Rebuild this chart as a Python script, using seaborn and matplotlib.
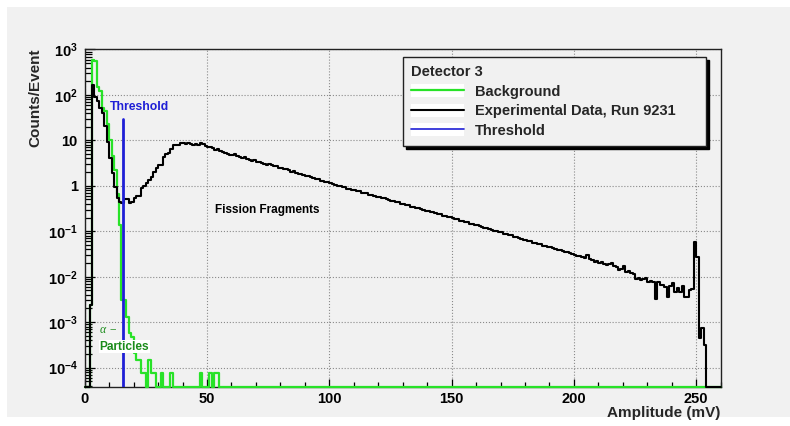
import numpy as np
import pandas as pd
import matplotlib
matplotlib.use("Agg")
import matplotlib.pyplot as plt
import seaborn as sns
from matplotlib.patches import Rectangle, Patch
from matplotlib.lines import Line2D
from matplotlib.legend_handler import HandlerTuple
from matplotlib.ticker import FixedLocator, LogLocator, MultipleLocator, NullFormatter

# ---- data: 1 mV channels from 0 to 260 mV, counts per event ----
amplitude_edges = np.arange(0, 261, 1.0)

experimental_run_9231 = [
    0, 0, 0.0024, 165, 91, 72, 51, 41, 21, 9.4,
    4.0, 1.9, 0.95, 0.55, 0.45, 0.42, 0.5, 0.5, 0.42, 0.45,
    0.55, 0.6, 0.6, 0.9, 1.0, 1.15, 1.35, 1.6, 2.0, 2.5,
    2.8, 2.9, 4.3, 5.0, 5.3, 6.6, 7.9, 7.9, 8.0, 8.9,
    8.6, 8.3, 8.6, 8.3, 8.0, 8.4, 7.9, 8.8, 8.5, 7.4,
    7.0, 7.2, 6.8, 6.2, 6.3, 5.8, 5.5, 5.3, 5.1, 4.8,
    4.7, 4.9, 4.6, 4.2, 4.0, 4.3, 3.9, 3.7, 3.6, 3.7,
    3.4, 3.3, 3.2, 3.0, 2.9, 3.0, 2.9, 2.75, 2.7, 2.5,
    2.5, 2.35, 2.3, 2.2, 2.05, 2.1, 1.9, 1.85, 1.8, 1.72,
    1.65, 1.62, 1.55, 1.5, 1.4, 1.4, 1.3, 1.28, 1.2, 1.19,
    1.13, 1.08, 1.06, 1.0, 0.99, 0.94, 0.93, 0.87, 0.86, 0.82,
    0.81, 0.76, 0.75, 0.71, 0.69, 0.68, 0.64, 0.63, 0.59, 0.58,
    0.56, 0.53, 0.53, 0.50, 0.49, 0.46, 0.46, 0.43, 0.43, 0.40,
    0.40, 0.38, 0.37, 0.35, 0.35, 0.33, 0.32, 0.31, 0.30, 0.285,
    0.28, 0.265, 0.26, 0.25, 0.24, 0.235, 0.222, 0.218, 0.208, 0.203,
    0.195, 0.186, 0.182, 0.172, 0.169, 0.16, 0.157, 0.148, 0.146, 0.138,
    0.136, 0.128, 0.126, 0.119, 0.117, 0.11, 0.109, 0.102, 0.1, 0.095,
    0.094, 0.088, 0.087, 0.082, 0.081, 0.076, 0.075, 0.07, 0.069, 0.065,
    0.065, 0.061, 0.06, 0.056, 0.056, 0.052, 0.052, 0.048, 0.048, 0.045,
    0.045, 0.042, 0.041, 0.039, 0.038, 0.037, 0.035, 0.035, 0.033, 0.032,
    0.03, 0.029, 0.028, 0.0277, 0.026, 0.030, 0.0242, 0.023, 0.021, 0.022,
    0.0199, 0.021, 0.019, 0.0183, 0.019, 0.0199, 0.0168, 0.016, 0.0142, 0.015,
    0.0168, 0.013, 0.0135, 0.012, 0.0115, 0.0087, 0.0095, 0.0085, 0.0088, 0.0092,
    0.0078, 0.0082, 0.0075, 0.0032, 0.0078, 0.0066, 0.0066, 0.0059, 0.0036, 0.0061,
    0.0072, 0.0047, 0.0056, 0.0047, 0.0061, 0.0036, 0.0035, 0.0051, 0.0054, 0.059,
    0.027, 0.00045, 0.00076, 0.00032, 0, 0, 0, 0, 0, 0,
]

background = [
    0, 0, 0.0024, 600, 570, 150, 125, 52, 45, 23,
    10, 4.6, 2.2, 0.65, 0.14, 0.0031, 0.0031, 0.0013, 0.00057, 0.00048,
    0.00021, 0.00015, 0.00015, 7.5e-5, 7.5e-5, 0, 0.00015, 7.5e-5, 7.5e-5, 0,
    0, 7.5e-5, 0, 0, 0, 7.5e-5, 0, 0, 0, 0,
    0, 0, 0, 0, 0, 0, 0, 7.5e-5, 0, 0,
    0, 7.5e-5, 0, 7.5e-5, 7.5e-5, 0, 0, 0, 0, 0,
] + [0.0] * 200

threshold_mv = 15.5
threshold_top = 30.0

y_floor = 3.8e-5
y_ceiling = 1.05e3

assert len(experimental_run_9231) == len(amplitude_edges) - 1
assert len(background) == len(amplitude_edges) - 1

# ---- style ----
sns.set_theme(style="ticks")
plt.rcParams["font.family"] = ["Liberation Sans", "DejaVu Sans"]
plt.rcParams["font.weight"] = "bold"
plt.rcParams["axes.labelweight"] = "bold"
plt.rcParams["mathtext.fontset"] = "custom"
plt.rcParams["mathtext.rm"] = "Liberation Sans"
plt.rcParams["mathtext.bf"] = "Liberation Sans:bold"
plt.rcParams["mathtext.it"] = "Liberation Serif:italic"

panel_color = "#f1f1f1"
green = "#28e228"
blue = "#1f1fd6"
dark_green = "#1b8c1b"

fig = plt.figure(figsize=(7.9, 4.26), dpi=100)
fig.patch.set_facecolor("white")
fig.patches.append(Rectangle((7 / 790, 1 - 417 / 426), 1 - 7 / 790, 410 / 426,
                             transform=fig.transFigure, facecolor=panel_color,
                             edgecolor="none", zorder=-10))

ax = fig.add_axes([84.7 / 790, 1 - 386.7 / 426, 636 / 790, 338.2 / 426])
ax.set_facecolor(panel_color)


def step_frame(edges, counts):
    """Histogram outline; empty channels sit on the lower edge of the frame."""
    vals = np.asarray(counts, dtype=float)
    vals = np.where(vals > 0, vals, y_floor)
    return pd.DataFrame({"amplitude": edges, "counts": np.append(vals, vals[-1])})


bg_df = step_frame(amplitude_edges, background)
exp_df = step_frame(amplitude_edges, experimental_run_9231)

sns.lineplot(data=bg_df, x="amplitude", y="counts", drawstyle="steps-post",
             estimator=None, sort=False, color=green, lw=1.6, ax=ax,
             clip_on=False, zorder=3)
sns.lineplot(data=exp_df, x="amplitude", y="counts", drawstyle="steps-post",
             estimator=None, sort=False, color="black", lw=1.5, ax=ax,
             clip_on=False, zorder=4)
thr_df = pd.DataFrame({"amplitude": [threshold_mv, threshold_mv],
                       "counts": [y_floor, threshold_top]})
sns.lineplot(data=thr_df, x="amplitude", y="counts", estimator=None, sort=False,
             color=blue, lw=2.0, ax=ax, zorder=5)

ax.set_yscale("log")
ax.set_xlim(0, 260)
ax.set_ylim(y_floor, y_ceiling)

# ticks
ax.xaxis.set_major_locator(MultipleLocator(50))
ax.xaxis.set_minor_locator(MultipleLocator(10))
decades = [-4, -3, -2, -1, 0, 1, 2, 3]
ax.yaxis.set_major_locator(FixedLocator([10.0 ** d for d in decades]))
ax.yaxis.set_minor_locator(LogLocator(base=10, subs=np.arange(2, 10), numticks=100))
ax.yaxis.set_minor_formatter(NullFormatter())


def decade_label(d):
    if d == 0:
        return "1"
    if d == 1:
        return "10"
    return r"$\mathbf{10^{%d}}$" % d


ax.set_yticklabels([decade_label(d) for d in decades])
ax.tick_params(axis="both", which="both", direction="in", top=False, right=False,
               colors="black", width=0.9)
ax.tick_params(axis="x", which="major", length=6, pad=4, labelsize=10.5)
ax.tick_params(axis="x", which="minor", length=3.5)
ax.tick_params(axis="y", which="major", length=7.5, pad=5, labelsize=10.5)
ax.tick_params(axis="y", which="minor", length=5)
for lab in ax.get_xticklabels() + ax.get_yticklabels():
    lab.set_fontweight("bold")

ax.grid(True, which="major", linestyle=":", color="#8a8a8a", linewidth=0.8)
for sp in ax.spines.values():
    sp.set_visible(True)
    sp.set_color("#222222")
    sp.set_linewidth(1.0)

ax.set_ylabel("Counts/Event", loc="top", fontsize=11, fontweight="bold")
ax.yaxis.set_label_coords(-0.066, 1.0)
ax.set_xlabel("Amplitude (mV)", loc="right", fontsize=11, fontweight="bold")
ax.xaxis.set_label_coords(1.0, -0.058)

# annotations
ax.text(10.4, 54, "Threshold", color=blue, fontsize=8.8, fontweight="bold",
        ha="left", va="center", zorder=6)
ax.text(53.3, 0.294, "Fission Fragments", color="black", fontsize=8.5,
        fontweight="bold", ha="left", va="center", zorder=6)
ax.text(6.3, 6.6e-4, "α −", color=dark_green, fontsize=8.5, fontstyle="italic",
        fontweight="normal", family=["Liberation Serif", "DejaVu Serif"],
        ha="left", va="center", zorder=6)
ax.text(6.0, 2.9e-4, "Particles", color=dark_green, fontsize=8.6, fontweight="bold",
        ha="left", va="center", zorder=6,
        bbox=dict(facecolor="white", edgecolor="none", pad=0.6))

# legend
white = Patch(facecolor="white", edgecolor="none")
handles = [(white, Line2D([], [], color=green, lw=1.6)),
           (white, Line2D([], [], color="black", lw=1.5)),
           (white, Line2D([], [], color=blue, lw=1.2))]
labels = ["Background", "Experimental Data, Run 9231", "Threshold"]
leg = fig.legend(handles, labels, title="Detector 3",
                 handler_map={tuple: HandlerTuple(ndivide=1, pad=0)},
                 loc="upper left", bbox_to_anchor=(403 / 790, 1 - 57 / 426, 303 / 790, 0),
                 mode="expand", borderaxespad=0, fontsize=10.5,
                 title_fontproperties={"weight": "bold", "size": 10.5},
                 alignment="left", handlelength=3.6, handleheight=1.0,
                 handletextpad=0.8, labelspacing=0.35, borderpad=0.55,
                 fancybox=False, framealpha=1, facecolor=panel_color,
                 edgecolor="#222222", shadow={"color": "black", "alpha": 1})
leg.get_frame().set_linewidth(1.0)
for t in leg.get_texts():
    t.set_fontweight("bold")

fig.savefig("out.png", dpi=100)
